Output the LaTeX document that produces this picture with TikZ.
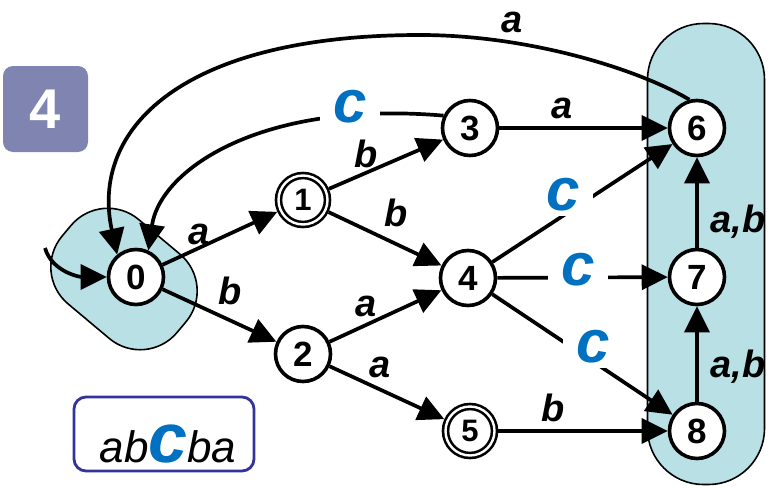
\documentclass[tikz,border=0pt]{standalone}
\usepackage{fontspec}
\setmainfont{Liberation Sans}
\usetikzlibrary{arrows.meta,shapes.geometric}
\definecolor{blobfill}{HTML}{B9E0E4}
\definecolor{cblue}{HTML}{0070C0}
\definecolor{numbox}{HTML}{7F84B0}
\definecolor{wordbox}{HTML}{333399}
\begin{document}
\begin{tikzpicture}[x=1pt,y=-1pt,
  state/.style={circle, draw, line width=3.6pt, fill=white, minimum size=55pt, inner sep=0pt,
    font=\fontsize{35}{35}\selectfont\bfseries},
  accept/.style={state, double, line width=2.6pt, double distance=2.4pt, minimum size=49pt,
    outer sep=3.8pt, font=\fontsize{31}{31}\selectfont\bfseries},
  edge/.style={line width=3.7pt, -{Triangle[length=26pt,width=25pt]}},
  lab/.style={font=\fontsize{38}{38}\selectfont\bfseries\itshape, inner sep=0pt},
  clab/.style={font=\fontsize{60}{60}\selectfont\bfseries\itshape, text=cblue, fill=white,
    inner xsep=13pt, inner ysep=5pt},
  blob/.style={draw, line width=1.6pt, fill=blobfill}]
\useasboundingbox (0,0) rectangle (773,487);

% groups
\node[blob, rectangle, rounded corners=48pt, minimum width=150pt, minimum height=110pt, rotate=-40] (blob0) at (124,279) {};
\node[blob, rectangle, rounded corners=56pt, minimum width=117pt, minimum height=461pt] (blob6) at (706,254) {};

% boxes
\node[fill=numbox, rounded corners=10pt, minimum width=85pt, minimum height=86pt, text=white,
  font=\fontsize{56}{56}\selectfont\bfseries] (stepnum) at (45.5,109) {4};
\node[draw=wordbox, line width=2.8pt, rounded corners=12pt, minimum width=180pt, minimum height=74pt,
  fill=white] (word) at (164,434) {};
\node[anchor=base, inner sep=0pt, font=\fontsize{44}{44}\selectfont\itshape] (wordtext) at (168,462)
  {ab{\color{cblue}\bfseries\fontsize{70}{70}\selectfont c}ba};

% states
\node[state] (n0) at (136,277) {0};
\node[accept] (n1) at (303,200) {1};
\node[state] (n2) at (303,354) {2};
\node[state] (n3) at (470,128) {3};
\node[state] (n4) at (468,278) {4};
\node[accept] (n5) at (470,431) {5};
\node[state] (n6) at (697,128) {6};
\node[state] (n7) at (697,277) {7};
\node[state] (n8) at (697,431) {8};
\coordinate (init) at (45,248);

% transitions
\draw[edge] (init) .. controls (52,272) and (80,277) .. (n0.west);
\draw[edge] (n0) -- (n1);
\draw[edge] (n0) -- (n2);
\draw[edge] (n1) -- (n3);
\draw[edge] (n1) -- (n4);
\draw[edge] (n2) -- (n4);
\draw[edge] (n2) -- (n5);
\draw[edge] (n3) -- (n6);
\draw[edge] (n4) -- (n6);
\draw[edge] (n4) -- (n7);
\draw[edge] (n4) -- (n8);
\draw[edge] (n5) -- (n8);
\draw[edge] (n7) -- (n6);
\draw[edge] (n8) -- (n7);
\draw[edge] (n6.105) .. controls (640,70) and (530,35) .. (420,35) .. controls (180,35) and (90,130) .. (n0.130);
\draw[edge] (n3.155) .. controls (260,100) and (160,170) .. (n0.65);

% labels
\node[lab] (l01) at (199,234) {a};
\node[lab] (l02) at (230,291) {b};
\node[lab] (l13) at (366,154) {b};
\node[lab] (l14) at (396,213) {b};
\node[lab] (l24) at (366,306) {a};
\node[lab] (l25) at (380,367) {a};
\node[lab] (l36) at (562,108) {a};
\node[lab] (l58) at (553,408) {b};
\node[lab] (l76) at (738,222) {a,b};
\node[lab] (l87) at (738,367) {a,b};
\node[lab] (l60) at (512,22) {a};
\node[clab] (l46) at (563,195) {c};
\node[clab] (l47) at (578,270) {c};
\node[clab] (l48) at (593,347) {c};
\node[clab] (l30) at (350,107) {c};
\end{tikzpicture}
\end{document}
